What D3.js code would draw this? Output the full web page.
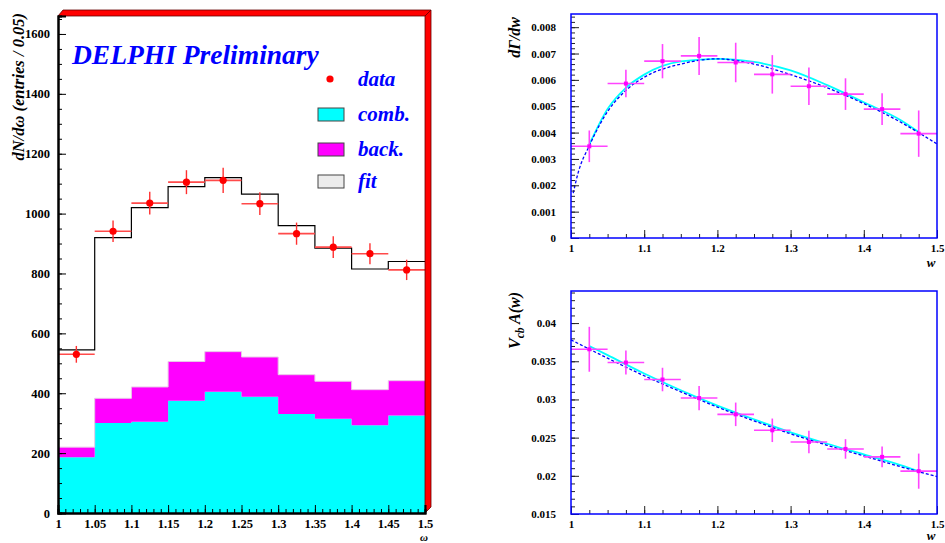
<!DOCTYPE html>
<html>
<head>
<meta charset="utf-8">
<script src="https://cdn.jsdelivr.net/npm/d3@7"></script>
<style>
body { margin: 0; background: #fff; }
svg { display: block; }
text { font-family: "Liberation Serif", "Times New Roman", serif; }
</style>
</head>
<body>
<svg id="chart" width="945" height="543"></svg>
<script>
// left panel: histogram of omega, bins of 0.05
const binEdges = [1, 1.05, 1.1, 1.15, 1.2, 1.25, 1.3, 1.35, 1.4, 1.45, 1.5];
const fitVals = [545, 920, 1020, 1090, 1120, 1065, 960, 885, 815, 840];
const dataVals = [530, 941, 1035, 1105, 1111, 1033, 933, 888, 866, 812];
const dataErr = [28, 36, 38, 40, 42, 38, 37, 36, 35, 34];
const combVals = [186, 301, 305, 375, 405, 388, 331, 315, 293, 326];
const backVals = [34, 82, 116, 131, 134, 133, 131, 125, 119, 116];
const leftYTicks = [0, 200, 400, 600, 800, 1000, 1200, 1400, 1600];
const leftXTicks = ["1", "1.05", "1.1", "1.15", "1.2", "1.25", "1.3", "1.35", "1.4", "1.45", "1.5"];
const legendItems = ["data", "comb.", "back.", "fit"];

// right panels: points at bin centres
const wCenters = [1.025, 1.075, 1.125, 1.175, 1.225, 1.275, 1.325, 1.375, 1.425, 1.475];
const dGamma = [0.00348, 0.00586, 0.00671, 0.00691, 0.00666, 0.00621, 0.00576, 0.00546, 0.00489, 0.00396];
const dGammaErr = [0.0006, 0.00052, 0.00065, 0.00072, 0.00075, 0.00073, 0.00071, 0.0006, 0.0006, 0.00088];
const gCyanW = [1.025, 1.05, 1.075, 1.1, 1.15, 1.2, 1.25, 1.3, 1.35, 1.4, 1.45, 1.475];
const gCyanV = [0.00355, 0.0049, 0.0057, 0.0062, 0.0067, 0.0068, 0.00668, 0.00636, 0.0058, 0.00515, 0.00448, 0.00402];
const gDashW = [1.003, 1.01, 1.025, 1.05, 1.075, 1.1, 1.15, 1.2, 1.25, 1.3, 1.35, 1.4, 1.45, 1.5];
const gDashV = [0.0017, 0.0025, 0.0035, 0.0048, 0.0056, 0.0061, 0.0066, 0.0068, 0.0066, 0.0062, 0.0057, 0.0051, 0.0044, 0.00357];
const gYTicks = ["0", "0.001", "0.002", "0.003", "0.004", "0.005", "0.006", "0.007", "0.008"];

const vcbA = [0.03657, 0.03483, 0.03261, 0.03018, 0.02805, 0.02596, 0.02443, 0.02352, 0.02248, 0.02061];
const vcbAErr = [0.00294, 0.00157, 0.00154, 0.00159, 0.00154, 0.00154, 0.00148, 0.00128, 0.00135, 0.0023];
const aCyanW = [1.025, 1.05, 1.1, 1.15, 1.2, 1.25, 1.3, 1.35, 1.4, 1.45, 1.475];
const aCyanV = [0.0370, 0.0358, 0.0334, 0.0312, 0.0292, 0.0274, 0.0257, 0.0242, 0.0228, 0.0214, 0.0206];
const aDashW = [1.0, 1.05, 1.1, 1.15, 1.2, 1.25, 1.3, 1.35, 1.4, 1.45, 1.5];
const aDashV = [0.0378, 0.0354, 0.0331, 0.0310, 0.0290, 0.0272, 0.0255, 0.0240, 0.0226, 0.0212, 0.0199];
const aYTicks = ["0.015", "0.02", "0.025", "0.03", "0.035", "0.04"];
const wTicks = ["1", "1.1", "1.2", "1.3", "1.4", "1.5"];

const svg = d3.select("#chart");

// ---------- left panel ----------
const xL = d3.scaleLinear().domain([1, 1.5]).range([58, 425]);
const yL = d3.scaleLinear().domain([0, 1660]).range([513, 16]);
const gL = svg.append("g");

const stepPts = (vals, base) => binEdges.map((e, i) => ({x: e, y0: base ? base[Math.min(i, 9)] : 0, y1: vals[Math.min(i, 9)]}));

const combTop = combVals;
const backTop = combVals.map((c, i) => c + backVals[i]);

gL.append("path")
  .datum(stepPts(combTop))
  .attr("fill", "#00ffff")
  .attr("d", d3.area().curve(d3.curveStepAfter).x(d => xL(d.x)).y0(d => yL(d.y0)).y1(d => yL(d.y1)));
gL.append("path")
  .datum(stepPts(backTop, combTop))
  .attr("fill", "#ff00ff")
  .attr("d", d3.area().curve(d3.curveStepAfter).x(d => xL(d.x)).y0(d => yL(d.y0)).y1(d => yL(d.y1)));
gL.append("path")
  .datum(stepPts(backTop))
  .attr("fill", "none").attr("stroke", "#e8c8e8").attr("stroke-width", 1)
  .attr("d", d3.line().curve(d3.curveStepAfter).x(d => xL(d.x)).y(d => yL(d.y1)));

// fit histogram
gL.append("path")
  .datum(stepPts(fitVals))
  .attr("fill", "none").attr("stroke", "#000").attr("stroke-width", 1.2)
  .attr("d", d3.line().curve(d3.curveStepAfter).x(d => xL(d.x)).y(d => yL(d.y1)));

// data points
const dataPts = dataVals.map((v, i) => ({lo: binEdges[i], hi: binEdges[i + 1], v: v, e: dataErr[i]}));
const dp = gL.append("g").selectAll("g").data(dataPts).join("g");
dp.append("line")
  .attr("x1", d => xL(d.lo)).attr("x2", d => xL(d.hi))
  .attr("y1", d => yL(d.v)).attr("y2", d => yL(d.v))
  .attr("stroke", "#ff4a4a").attr("stroke-width", 1.6);
dp.append("line")
  .attr("x1", d => xL((d.lo + d.hi) / 2)).attr("x2", d => xL((d.lo + d.hi) / 2))
  .attr("y1", d => yL(d.v - d.e)).attr("y2", d => yL(d.v + d.e))
  .attr("stroke", "#ff3030").attr("stroke-width", 1.4);
dp.append("circle")
  .attr("cx", d => xL((d.lo + d.hi) / 2)).attr("cy", d => yL(d.v))
  .attr("r", 3.6).attr("fill", "#ff0000");

// red bevel frame top and right
gL.append("path")
  .attr("d", `M${xL(1)},${yL(1660)} L${xL(1) + 5},${yL(1660) - 6} L${xL(1.5) + 6},${yL(1660) - 6} L${xL(1.5)},${yL(1660)} Z`)
  .attr("fill", "#ff0000").attr("stroke", "#600").attr("stroke-width", 0.8);
gL.append("path")
  .attr("d", `M${xL(1.5)},${yL(1660)} L${xL(1.5) + 6},${yL(1660) - 6} L${xL(1.5) + 6},${yL(0) - 6} L${xL(1.5)},${yL(0)} Z`)
  .attr("fill", "#ff0000").attr("stroke", "#600").attr("stroke-width", 0.8);

// axes
gL.append("g").attr("transform", `translate(${xL(1)},0)`)
  .call(d3.axisLeft(yL).tickValues(leftYTicks).tickSize(-8).tickPadding(8).tickFormat(d3.format("d")));
gL.append("g").attr("transform", `translate(${xL(1)},0)`)
  .call(d3.axisLeft(yL).tickValues(d3.range(0, 1660, 50)).tickSize(-4).tickFormat(""));
gL.append("g").attr("transform", `translate(0,${yL(0)})`)
  .call(d3.axisBottom(xL).tickValues(binEdges).tickSize(-8).tickPadding(6).tickFormat((d, i) => leftXTicks[i]));
gL.append("g").attr("transform", `translate(0,${yL(0)})`)
  .call(d3.axisBottom(xL).tickValues(d3.range(100, 151).map(v => v / 100)).tickSize(-4).tickFormat(""));
gL.selectAll(".domain").attr("stroke", "#000").attr("stroke-width", 2);
gL.selectAll(".tick line").attr("stroke", "#000");
gL.selectAll(".tick text").attr("font-size", 12.5).attr("font-weight", "bold").attr("fill", "#000");

gL.append("text")
  .attr("transform", `translate(24,13) rotate(-90)`)
  .attr("text-anchor", "end")
  .attr("font-size", 16.5).attr("font-weight", "bold").attr("font-style", "italic")
  .text("dN/dω (entries / 0.05)");
gL.append("text")
  .attr("x", 424).attr("y", 541).attr("text-anchor", "middle")
  .attr("font-size", 11).attr("font-weight", "bold").attr("font-style", "italic")
  .text("ω");

gL.append("text")
  .attr("x", 72).attr("y", 64)
  .attr("font-size", 27.5).attr("font-weight", "bold").attr("font-style", "italic")
  .attr("fill", "#0000ff")
  .text("DELPHI Preliminary");

// legend
const legY = [79, 114, 149, 181];
const legFill = [null, "#00ffff", "#ff00ff", "#ececec"];
const leg = gL.append("g").selectAll("g").data(legendItems).join("g");
leg.each(function(d, i) {
  const g = d3.select(this);
  if (i === 0) {
    g.append("circle").attr("cx", 330).attr("cy", legY[i]).attr("r", 3.6).attr("fill", "#ff0000");
  } else {
    g.append("rect").attr("x", 318).attr("y", legY[i] - 6).attr("width", 26).attr("height", 13)
      .attr("fill", legFill[i]).attr("stroke", "#444").attr("stroke-width", 1);
  }
  g.append("text").attr("x", 358).attr("y", legY[i] + 7)
    .attr("font-size", 21).attr("font-weight", "bold").attr("font-style", "italic")
    .attr("fill", "#0000ff").text(d);
});

// ---------- right panels ----------
function panel(opts) {
  const x = d3.scaleLinear().domain([1, 1.5]).range([571, 937]);
  const y = d3.scaleLinear().domain(opts.yDomain).range([opts.bottom, opts.top]);
  const g = svg.append("g");

  // curves
  g.append("path")
    .datum(opts.cyanW.map((w, i) => [w, opts.cyanV[i]]))
    .attr("fill", "none").attr("stroke", "#00ffff").attr("stroke-width", 1.8)
    .attr("d", d3.line().curve(d3.curveMonotoneX).x(d => x(d[0])).y(d => y(d[1])));
  g.append("path")
    .datum(opts.dashW.map((w, i) => [w, opts.dashV[i]]))
    .attr("fill", "none").attr("stroke", "#0000ff").attr("stroke-width", 1.3)
    .attr("stroke-dasharray", "3,2")
    .attr("d", d3.line().curve(d3.curveMonotoneX).x(d => x(d[0])).y(d => y(d[1])));

  // points
  const pts = wCenters.map((w, i) => ({w: w, v: opts.vals[i], e: opts.errs[i]}));
  const pg = g.append("g").selectAll("g").data(pts).join("g");
  pg.append("line")
    .attr("x1", d => x(d.w - 0.025)).attr("x2", d => x(d.w + 0.025))
    .attr("y1", d => y(d.v)).attr("y2", d => y(d.v))
    .attr("stroke", "#ff44ff").attr("stroke-width", 1.6);
  pg.append("line")
    .attr("x1", d => x(d.w)).attr("x2", d => x(d.w))
    .attr("y1", d => y(d.v - d.e)).attr("y2", d => y(d.v + d.e))
    .attr("stroke", "#ff44ff").attr("stroke-width", 1.6);
  pg.append("rect")
    .attr("x", d => x(d.w) - 2).attr("y", d => y(d.v) - 2)
    .attr("width", 4).attr("height", 4).attr("fill", "#ff00ff");

  // axes
  g.append("g").attr("transform", `translate(${x(1)},0)`)
    .call(d3.axisLeft(y).tickValues(opts.yMajor).tickSize(-8).tickPadding(15)
      .tickFormat((d, i) => opts.yLabels[i]));
  g.append("g").attr("transform", `translate(${x(1)},0)`)
    .call(d3.axisLeft(y).tickValues(opts.yMinor).tickSize(-4).tickFormat(""));
  g.append("g").attr("transform", `translate(0,${opts.bottom})`)
    .call(d3.axisBottom(x).tickValues([1, 1.1, 1.2, 1.3, 1.4, 1.5]).tickSize(-8).tickPadding(6)
      .tickFormat((d, i) => wTicks[i]));
  g.append("g").attr("transform", `translate(0,${opts.bottom})`)
    .call(d3.axisBottom(x).tickValues(d3.range(0, 21).map(k => 1 + k * 0.025)).tickSize(-4).tickFormat(""));
  g.selectAll(".domain").remove();
  g.selectAll(".tick line").attr("stroke", "#222");
  g.selectAll(".tick text").attr("font-size", 11).attr("font-weight", "bold").attr("fill", "#000");

  g.append("rect")
    .attr("x", x(1)).attr("y", opts.top)
    .attr("width", x(1.5) - x(1)).attr("height", opts.bottom - opts.top)
    .attr("fill", "none").attr("stroke", "#0000ff").attr("stroke-width", 1.5);

  g.append("text")
    .attr("x", 931).attr("y", Math.min(opts.bottom + 29, 540)).attr("text-anchor", "middle")
    .attr("font-size", 13).attr("font-weight", "bold").attr("font-style", "italic")
    .text("w");
  return g;
}

const gTop = panel({
  yDomain: [0, 0.0085], top: 14, bottom: 238,
  vals: dGamma, errs: dGammaErr,
  cyanW: gCyanW, cyanV: gCyanV, dashW: gDashW, dashV: gDashV,
  yMajor: d3.range(0, 9).map(k => k * 0.001), yLabels: gYTicks,
  yMinor: d3.range(0, 43).map(k => k * 0.0002)
});
gTop.append("text")
  .attr("transform", "translate(520,17) rotate(-90)")
  .attr("text-anchor", "end")
  .attr("font-size", 16).attr("font-style", "italic").attr("font-weight", "bold")
  .text("dΓ/dw");

const gBot = panel({
  yDomain: [0.015, 0.0442], top: 291, bottom: 514,
  vals: vcbA, errs: vcbAErr,
  cyanW: aCyanW, cyanV: aCyanV, dashW: aDashW, dashV: aDashV,
  yMajor: d3.range(0, 6).map(k => 0.015 + k * 0.005), yLabels: aYTicks,
  yMinor: d3.range(0, 30).map(k => 0.015 + k * 0.001)
});
const vt = gBot.append("text")
  .attr("transform", "translate(520,292) rotate(-90)")
  .attr("text-anchor", "end")
  .attr("font-size", 16).attr("font-weight", "bold").attr("font-style", "italic");
vt.append("tspan").text("V");
vt.append("tspan").attr("font-size", 11.5).attr("dy", 4).text("cb");
vt.append("tspan").attr("dy", -4).text(" A(w)");
</script>
</body>
</html>
